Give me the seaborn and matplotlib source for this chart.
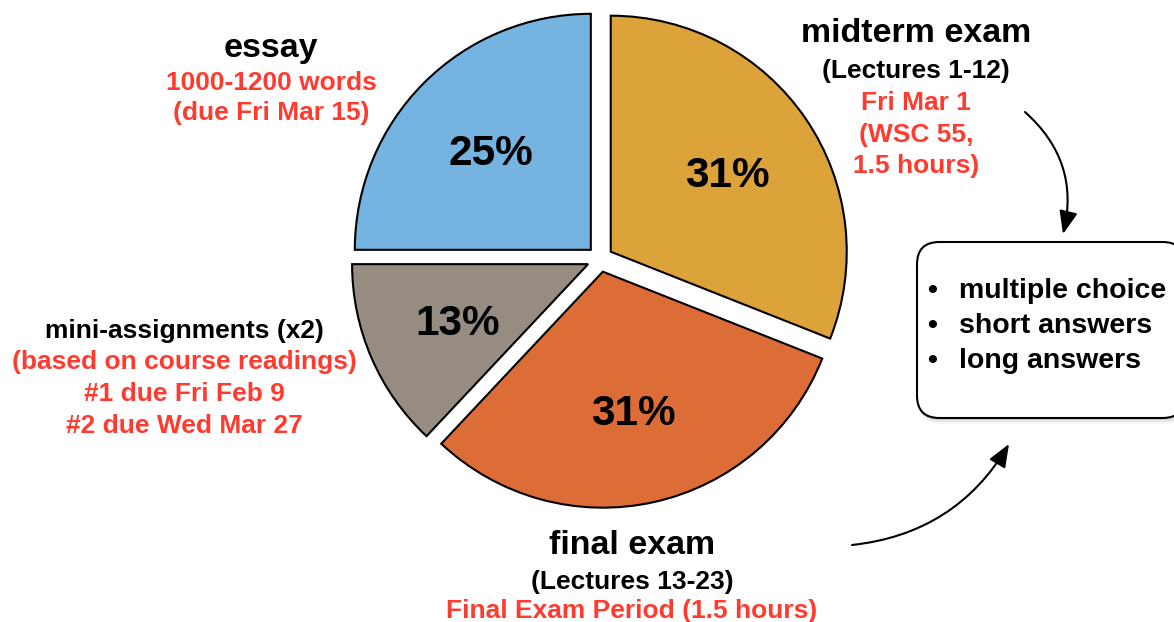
import matplotlib
matplotlib.use("Agg")
import matplotlib.pyplot as plt
import seaborn as sns
from matplotlib.patches import FancyBboxPatch

# grade breakdown, clockwise from 12 o'clock
components = ["midterm exam", "final exam", "mini-assignments", "essay"]
weights = [31, 31, 13, 25]
colors = ["#DCA33B", "#DD6D37", "#968C82", "#75B3E0"]
box_items = ["multiple choice", "short answers", "long answers"]

RED = "#FF3B30"

sns.set_theme(style="white")
plt.rcParams['font.family'] = ['Liberation Sans', 'DejaVu Sans']
plt.rcParams['text.color'] = 'black'

fig = plt.figure(figsize=(11.74, 6.22), dpi=100)
ax = fig.add_axes([0, 0, 1, 1])

# pixel -> data helper (pie centre at 600,259 px, radius 236 px)
CX, CY, R = 600, 259, 236
DY = 3  # text baseline nudge


def px(x, y):
    return (x - CX) / R, (CY - y) / R


wedges, texts, autotexts = ax.pie(
    weights, colors=colors, startangle=90, counterclock=False,
    explode=[0.055] * len(weights), autopct='%d%%', pctdistance=0.6,
    wedgeprops=dict(edgecolor="black", linewidth=1.5),
    textprops=dict(fontsize=30.5, fontweight="bold", color="black"))
for t in autotexts:
    x, y = t.get_position()
    t.set_position((x, y - 4 / R))

ax.set_xlim(px(0, 0)[0], px(1174, 0)[0])
ax.set_ylim(px(0, 622)[1], px(0, 0)[1])
ax.set_aspect('auto')
ax.axis('off')


def label(x, y, s, size, color="black"):
    ax.text(*px(x, y + DY), s, fontsize=size, fontweight="bold", color=color,
            ha="center", va="center")


# essay
label(271, 45, "essay", 24.5)
label(271, 80, "1000-1200 words", 19, RED)
label(271, 110, "(due Fri Mar 15)", 19, RED)

# midterm
label(916, 31, "midterm exam", 24.5)
label(916, 68, "(Lectures 1-12)", 19)
label(916, 100, "Fri Mar 1", 19, RED)
label(916, 132, "(WSC 55,", 19, RED)
label(916, 163, "1.5 hours)", 19, RED)

# mini-assignments
label(184, 328, "mini-assignments (x2)", 19)
label(184, 359, "(based on course readings)", 19, RED)
label(184, 391, "#1 due Fri Feb 9", 19, RED)
label(184, 423, "#2 due Wed Mar 27", 19, RED)

# final
label(632, 542, "final exam", 24.5)
label(632, 579, "(Lectures 13-23)", 19)
label(632, 608, "Final Exam Period (1.5 hours)", 19, RED)

# question-type box with soft shadow
bx0, by0 = px(917, 418)
bw, bh = 268 / R, 176 / R
for i, a in enumerate([0.08, 0.06, 0.04]):
    off = (2 + 2 * i) / R
    ax.add_patch(FancyBboxPatch((bx0 + off * 0.3, by0 - off), bw, bh,
                                boxstyle="round,pad=0,rounding_size=0.095",
                                facecolor="black", edgecolor="none", alpha=a,
                                zorder=2))
ax.add_patch(FancyBboxPatch((bx0, by0), bw, bh,
                            boxstyle="round,pad=0,rounding_size=0.095",
                            facecolor="white", edgecolor="black", linewidth=1.5,
                            zorder=3))
for i, item in enumerate(box_items):
    y = 288 + i * 35 + DY
    ax.text(*px(932, y), "\u2022", fontsize=20.5, fontweight="bold",
            color="black", ha="center", va="center", zorder=4)
    ax.text(*px(959, y), item, fontsize=20.5, fontweight="bold",
            color="black", ha="left", va="center", zorder=4)

# arrows
arrow = dict(arrowstyle="-|>,head_length=0.7,head_width=0.28", color="black",
             lw=1.5, shrinkA=0, shrinkB=0, mutation_scale=20)
ax.annotate("", xy=px(1063, 234), xytext=px(1025, 112),
            arrowprops=dict(arrow, connectionstyle="arc3,rad=-0.3"))
ax.annotate("", xy=px(1009, 444), xytext=px(852, 545),
            arrowprops=dict(arrow, connectionstyle="arc3,rad=0.25"))

fig.savefig("out.png", dpi=100)
